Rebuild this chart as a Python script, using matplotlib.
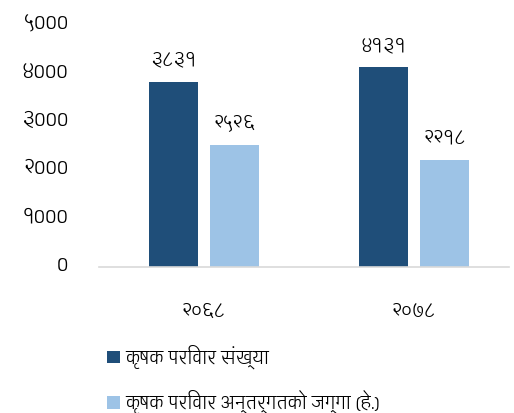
import numpy as np
import matplotlib
matplotlib.use('Agg')
from matplotlib import pyplot as plt
from matplotlib import font_manager as fm
from matplotlib import transforms

years = ['२०६८', '२०७८']
households = [3831, 4131]
land = [2526, 2218]
household_labels = ['३८३१', '४१३१']
land_labels = ['२५२६', '२२१८']
yticks = [0, 1000, 2000, 3000, 4000, 5000]
ytick_labels = ['0', '१000', '२000', '३000', '४000', '५000']
series_names = ['कृषक परिवार संख्या', 'कृषक परिवार अन्तर्गतको जग्गा (हे.)']

# pick a devanagari font, Glegoo first
prefer = ['Glegoo-Regular', 'NotoSansDevanagariUI-Regular', 'Mukta-Regular', 'Karma-Regular']
files = {}
for f in fm.findSystemFonts():
    n = f.split('/')[-1].split('.')[0]
    if n in prefer:
        files[n] = f
fams = []
for n in prefer:
    if n in files:
        fm.fontManager.addfont(files[n])
        fams.append(fm.FontProperties(fname=files[n]).get_name())
plt.rcParams['font.family'] = fams + ['DejaVu Sans']

dark = '#1F4E79'
light = '#9DC3E6'

fig = plt.figure(figsize=(5.14, 4.14), dpi=100)
ax = fig.add_axes([99/514, 1 - 268/414, 420/514, 241.5/414])

x = np.arange(len(years))
w = 0.23
b1 = ax.bar(x - w/2 - 0.03, households, w, color=dark, label=series_names[0])
b2 = ax.bar(x + w/2 + 0.03, land, w, color=light, label=series_names[1])
for bars, labs in [(b1, household_labels), (b2, land_labels)]:
    for r, t in zip(bars, labs):
        ax.text(r.get_x() + r.get_width()/2, r.get_height() + 280, t,
                ha='center', va='bottom', fontsize=13)

ax.set_xlim(-0.5, 1.5)
ax.set_ylim(0, 5000)
ax.set_yticks(yticks)
ax.set_yticklabels(ytick_labels, fontsize=14)
ax.set_xticks(x)
ax.set_xticklabels(years, fontsize=13)
ax.tick_params(length=0)
ax.tick_params(axis='x', pad=25)
ax.tick_params(axis='y', pad=22)
up = transforms.ScaledTranslation(0, 3/72, fig.dpi_scale_trans)
for lab in ax.get_yticklabels():
    lab.set_transform(lab.get_transform() + up)
for s in ['top', 'right', 'left']:
    ax.spines[s].set_visible(False)
ax.spines['bottom'].set_color('#d9d9d9')
ax.spines['bottom'].set_linewidth(1.2)
ax.spines['bottom'].set_bounds(-0.5, 1.45)

fig.legend(handles=[b1, b2], loc='upper left', bbox_to_anchor=(100/514, 1 - 338/414),
           frameon=False, fontsize=12, handlelength=0.8, handleheight=0.8,
           handletextpad=0.3, labelspacing=1.25, borderaxespad=0)

fig.savefig('out.png', dpi=100)
